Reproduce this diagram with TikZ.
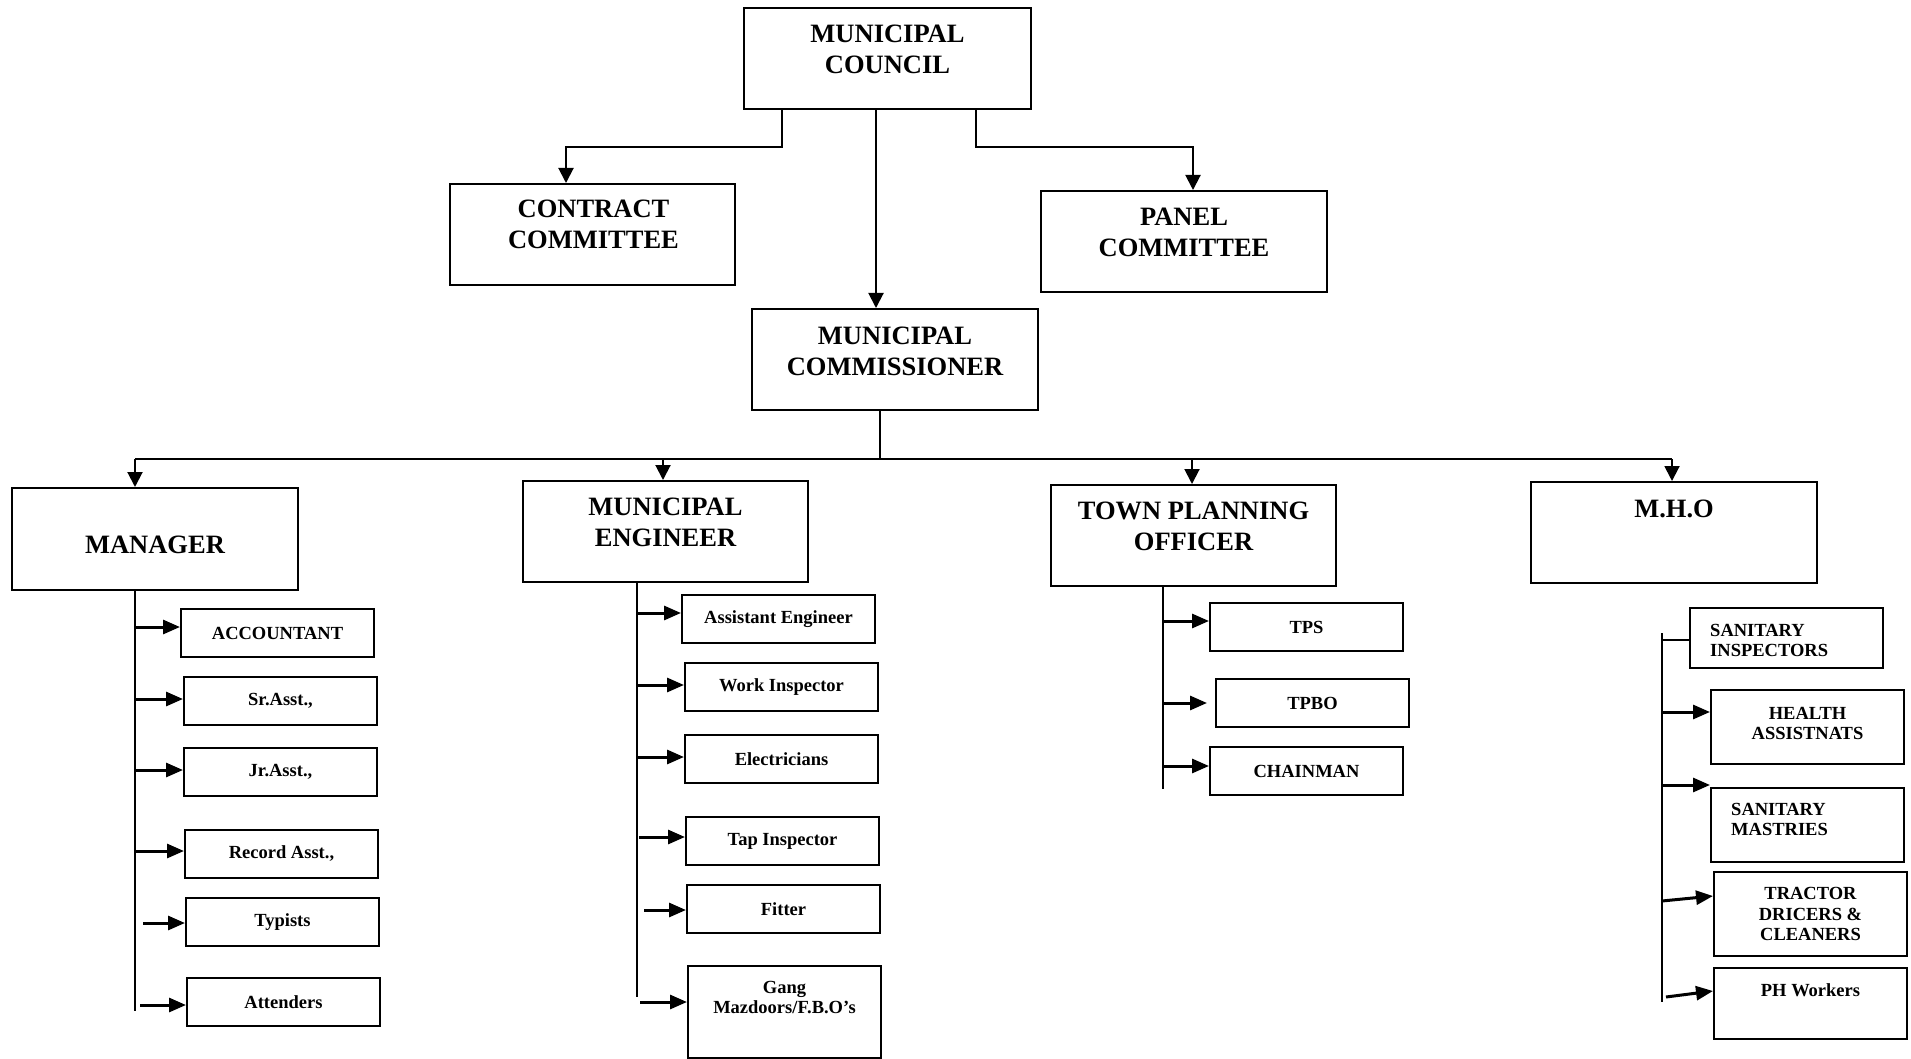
\documentclass[tikz,border=0pt]{standalone}
\usepackage{fontspec}
\setmainfont{Liberation Serif}
\usetikzlibrary{positioning,arrows.meta}
\tikzset{
  bx/.style 2 args={draw, line width=2pt, anchor=north west, minimum width=#1pt, minimum height=#2pt, inner sep=0pt},
  big/.style={font=\bfseries\fontsize{26.5}{31}\selectfont, align=center, inner sep=0pt},
  small/.style={font=\bfseries\fontsize{18.5}{20.5}\selectfont, align=center, inner sep=0pt},
  sb/.style={bx={193}{48}, small},
  ln/.style={line width=2pt},
  arr/.style={line width=2pt, -{Triangle[length=15pt,width=15pt]}},
  sub/.style={line width=3pt, -{Triangle[length=17pt,width=14pt]}},
}
\begin{document}
\begin{tikzpicture}[x=1pt,y=-1pt]
  \useasboundingbox (0,0) rectangle (1911,1059);
  % top of the chart
  \node[bx={287}{101}] (council) at (743,7) {};
  \node[bx={285}{101}] (contract) at (449,183) {};
  \node[bx={286}{101}] (panel) at (1040,190) {};
  \node[bx={286}{101}] (commish) at (751,308) {};
  \node[big, below=18pt of council.north] (council-t) {MUNICIPAL\\COUNCIL};
  \node[big, below=17pt of contract.north, xshift=1pt] (contract-t) {CONTRACT\\COMMITTEE};
  \node[big, below=18pt of panel.north] (panel-t) {PANEL\\COMMITTEE};
  \node[big, below=19pt of commish.north] (commish-t) {MUNICIPAL\\COMMISSIONER};
  \draw[arr] (council.south -| 782,0) -- (782,147) -| (contract.north -| 566,0);
  \draw[arr] (council.south -| 976,0) -- (976,147) -| (panel.north -| 1193,0);
  \draw[arr] (council.south -| 876,0) -- (commish.north -| 876,0);
  % heads of sections
  \node[bx={286}{102}] (mgr) at (11,487) {};
  \node[bx={285}{101}] (eng) at (522,480) {};
  \node[bx={285}{101}] (tpo) at (1050,484) {};
  \node[bx={286}{101}] (mho) at (1530,481) {};
  \node[big, below=49pt of mgr.north] (mgr-t) {MANAGER};
  \node[big, below=18pt of eng.north] (eng-t) {MUNICIPAL\\ENGINEER};
  \node[big, below=18pt of tpo.north] (tpo-t) {TOWN PLANNING\\OFFICER};
  \node[big, below=19pt of mho.north] (mho-t) {M.H.O};
  \coordinate (bus) at (880,459);
  \draw[ln] (commish.south -| bus) -- (bus);
  \draw[ln] (bus -| 135,0) -- (bus -| 1672,0);
  \foreach \n/\x in {mgr/135,eng/663,tpo/1192,mho/1672}
    \draw[arr] (bus -| \x,0) -- (\n.north -| \x,0);
  % manager
  \node[sb] (acc) at (180,608) {ACCOUNTANT};
  \node[sb] (sra) at (183,676) {Sr.Asst.,};
  \node[sb] (jra) at (183,747) {Jr.Asst.,};
  \node[sb] (rec) at (184,829) {Record Asst.,};
  \node[sb] (typ) at (185,897) {Typists};
  \node[sb] (att) at (186,977) {Attenders};
  \coordinate (mgr-end) at (135,1011);
  \draw[ln] (mgr.south -| mgr-end) -- (mgr-end);
  \foreach \b/\y/\s in {acc/627/0,sra/699/0,jra/770/0,rec/851/0,typ/923/8,att/1005/5}
    \draw[sub] (mgr-end |- 0,\y) ++(\s,0) -- (\b.west |- 0,\y);
  % engineer
  \node[sb] (ae) at (681,594) {Assistant Engineer};
  \node[sb] (wi) at (684,662) {Work Inspector};
  \node[sb] (ele) at (684,734) {Electricians};
  \node[sb] (tap) at (685,816) {Tap Inspector};
  \node[sb] (fit) at (686,884) {Fitter};
  \node[bx={193}{92}] (gang) at (687,965) {};
  \node[small, below=16pt of gang.north] (gang-t) {Gang\\Mazdoors/F.B.O’s};
  \coordinate (eng-end) at (637,997);
  \draw[ln] (eng.south -| eng-end) -- (eng-end);
  \foreach \b/\y/\s in {ae/613/0,wi/685/0,ele/757/0,tap/837/2,fit/910/7,gang/1002/3}
    \draw[sub] (eng-end |- 0,\y) ++(\s,0) -- (\b.west |- 0,\y);
  % town planning
  \node[sb] (tps) at (1209,602) {TPS};
  \node[sb] (tpbo) at (1215,678) {TPBO};
  \node[sb] (chain) at (1209,746) {CHAINMAN};
  \coordinate (tpo-end) at (1163,789);
  \draw[ln] (tpo.south -| tpo-end) -- (tpo-end);
  \draw[sub] (tpo-end |- 0,621) -- (tps.west |- 0,621);
  \draw[sub, shorten >=8pt] (tpo-end |- 0,703) -- (tpbo.west |- 0,703);
  \draw[sub] (tpo-end |- 0,766) -- (chain.west |- 0,766);
  % health
  \node[bx={193}{60}] (si) at (1689,607) {};
  \node[small, align=left, anchor=north west] (si-t) at ([xshift=21pt,yshift=-17pt]si.north west) {SANITARY\\INSPECTORS};
  \node[bx={193}{74}] (hlt) at (1710,689) {};
  \node[small, below=18pt of hlt.north] (hlt-t) {HEALTH\\ASSISTNATS};
  \node[bx={193}{74}] (mst) at (1710,787) {};
  \node[small, align=left, anchor=north west] (mst-t) at ([xshift=21pt,yshift=-16pt]mst.north west) {SANITARY\\MASTRIES};
  \node[bx={193}{84}, small] (trc) at (1713,871) {TRACTOR\\DRICERS \&\\CLEANERS};
  \node[bx={193}{71}] (phw) at (1713,967) {};
  \node[small, below=16pt of phw.north] (phw-t) {PH Workers};
  \coordinate (mho-top) at (1662,633);
  \coordinate (mho-end) at (1662,1002);
  \draw[ln] (mho-top) -- (mho-end);
  \draw[line width=2.5pt] (mho-end |- 0,640) -- (si.west |- 0,640);
  \draw[sub] (mho-end |- 0,712) -- (hlt.west |- 0,712);
  \draw[sub] (mho-end |- 0,785) -- (mst.north west |- 0,785);
  \draw[sub] (mho-end |- 0,901) -- (trc.west |- 0,896);
  \draw[sub] (mho-end |- 0,997) ++(4,0) -- (phw.west |- 0,991);
\end{tikzpicture}
\end{document}
